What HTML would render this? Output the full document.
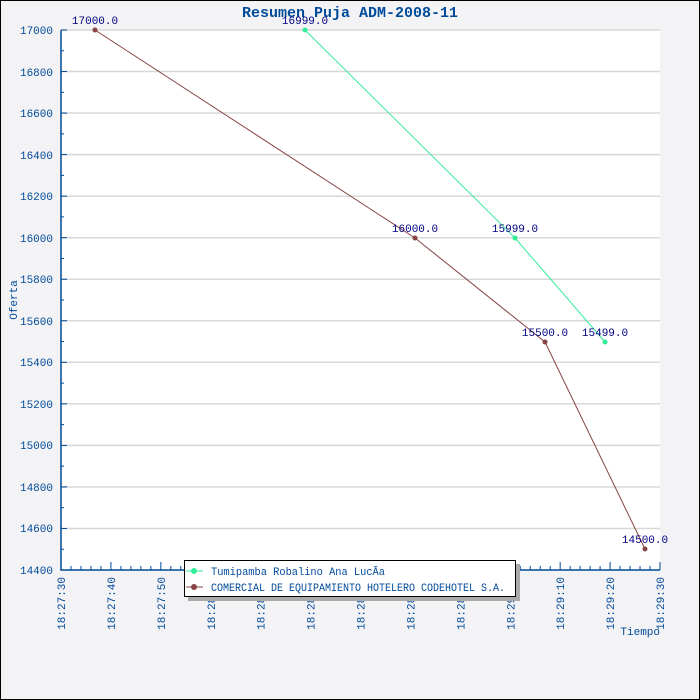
<!DOCTYPE html>
<html><head><meta charset="utf-8"><style>
html,body{margin:0;padding:0;background:#f3f3f5}
svg{display:block}
text{font-family:"Liberation Mono","DejaVu Sans Mono",monospace}
</style></head><body>
<svg width="700" height="700" xmlns="http://www.w3.org/2000/svg">
<rect x="0.5" y="0.5" width="699" height="699" fill="#f3f3f5" stroke="#000"/>
<rect x="61" y="30" width="599" height="540" fill="#fff"/>
<g stroke="#d8d8d8" stroke-width="1.5">
<line x1="61" x2="660" y1="30" y2="30"/><line x1="61" x2="660" y1="71.5" y2="71.5"/><line x1="61" x2="660" y1="113" y2="113"/><line x1="61" x2="660" y1="154.6" y2="154.6"/><line x1="61" x2="660" y1="196.2" y2="196.2"/><line x1="61" x2="660" y1="237.7" y2="237.7"/><line x1="61" x2="660" y1="279.2" y2="279.2"/><line x1="61" x2="660" y1="320.8" y2="320.8"/><line x1="61" x2="660" y1="362.3" y2="362.3"/><line x1="61" x2="660" y1="403.8" y2="403.8"/><line x1="61" x2="660" y1="445.4" y2="445.4"/><line x1="61" x2="660" y1="487" y2="487"/><line x1="61" x2="660" y1="528.5" y2="528.5"/>
</g>
<g stroke="#004a9a" stroke-width="1.5" fill="none">
<path d="M61,30V570H660"/>
</g>
<g id="yt" stroke="#004a9a" stroke-width="1"></g>
<g id="xt" stroke="#004a9a" stroke-width="1"></g>
<g font-size="11" fill="#004a9a" text-anchor="end">
<text x="53" y="34">17000</text><text x="53" y="76">16800</text><text x="53" y="117">16600</text><text x="53" y="159">16400</text><text x="53" y="200">16200</text><text x="53" y="242">16000</text><text x="53" y="283">15800</text><text x="53" y="325">15600</text><text x="53" y="366">15400</text><text x="53" y="408">15200</text><text x="53" y="449">15000</text><text x="53" y="491">14800</text><text x="53" y="532">14600</text><text x="53" y="574">14400</text>
</g>
<g id="xl" font-size="11" fill="#004a9a"></g>
<text x="350" y="17" font-size="15" font-weight="bold" fill="#004a9a" text-anchor="middle">Resumen Puja ADM-2008-11</text>
<text transform="translate(17,300) rotate(-90)" font-size="11" fill="#004a9a" text-anchor="middle">Oferta</text>
<text x="660" y="635" font-size="11" fill="#004a9a" text-anchor="end">Tiempo</text>
<polyline points="305,30 515,238 605,342" fill="none" stroke="#33ee99" stroke-width="1"/>
<polyline points="95,30 415,238 545,342 645,549" fill="none" stroke="#884444" stroke-width="1"/>
<g fill="#33ee99"><circle cx="305" cy="30" r="2.5"/><circle cx="515" cy="238" r="2.5"/><circle cx="605" cy="342" r="2.5"/></g>
<g fill="#884444"><circle cx="95" cy="30" r="2.5"/><circle cx="415" cy="238" r="2.5"/><circle cx="545" cy="342" r="2.5"/><circle cx="645" cy="549" r="2.5"/></g>
<g font-size="11" fill="#000080" text-anchor="middle">
<text x="95" y="24">17000.0</text><text x="305" y="24">16999.0</text><text x="415" y="232">16000.0</text><text x="515" y="232">15999.0</text><text x="545" y="336">15500.0</text><text x="605" y="336">15499.0</text><text x="645" y="543">14500.0</text>
</g>
<rect x="188" y="564" width="332" height="37" fill="#aaa"/>
<rect x="184.5" y="560.5" width="331" height="36" fill="#fff" stroke="#000"/>
<line x1="186" x2="203" y1="571" y2="571" stroke="#33ee99"/><circle cx="194" cy="571" r="3" fill="#33ee99"/>
<line x1="186" x2="203" y1="587" y2="587" stroke="#884444"/><circle cx="194" cy="587" r="3" fill="#884444"/>
<g font-size="11" fill="#004a9a"><text x="211" y="575" textLength="174" lengthAdjust="spacingAndGlyphs">Tumipamba Robalino Ana LucÃ­a</text><text x="211" y="591" textLength="294" lengthAdjust="spacingAndGlyphs">COMERCIAL DE EQUIPAMIENTO HOTELERO CODEHOTEL S.A.</text></g>
<script>
var ns="http://www.w3.org/2000/svg";
var yt=document.getElementById('yt');
for(var i=0;i<=26;i++){var y=570-i*540/26;var l=document.createElementNS(ns,'line');l.setAttribute('x1',61);l.setAttribute('x2',i%2?64:67);l.setAttribute('y1',y);l.setAttribute('y2',y);yt.appendChild(l);}
var xt=document.getElementById('xt');
for(var i=0;i<=60;i++){var x=61+i*599/60;var l=document.createElementNS(ns,'line');l.setAttribute('x1',x);l.setAttribute('x2',x);l.setAttribute('y1',570);l.setAttribute('y2',i%5?566:562);xt.appendChild(l);}
var xl=document.getElementById('xl');
var labs=["18:27:30","18:27:40","18:27:50","18:28:00","18:28:10","18:28:20","18:28:30","18:28:40","18:28:50","18:29:00","18:29:10","18:29:20","18:29:30"];
for(var i=0;i<13;i++){var x=61+i*599/12+4;var t=document.createElementNS(ns,'text');t.setAttribute('transform','translate('+x+',577) rotate(-90)');t.setAttribute('text-anchor','end');t.textContent=labs[i];xl.appendChild(t);}
</script>
</svg>
</body></html>
